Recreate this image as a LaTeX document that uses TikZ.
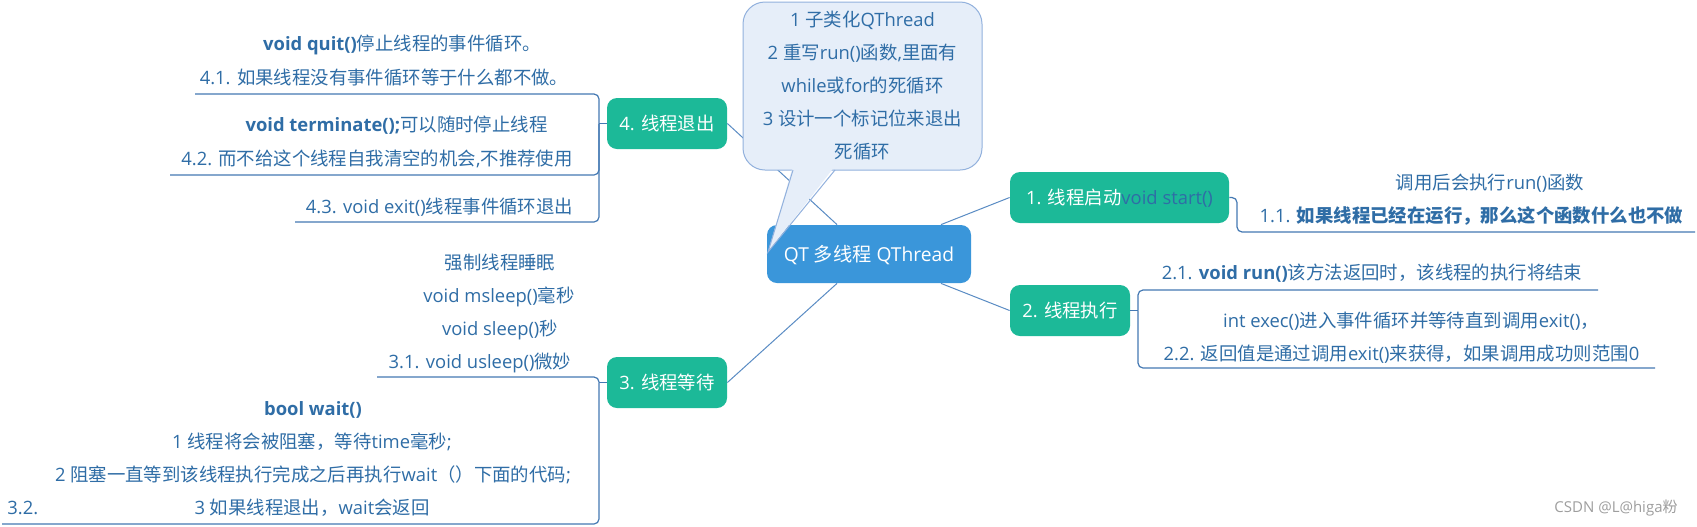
\documentclass[tikz,border=0pt]{standalone}
\usepackage{fontspec}
\setmainfont{Open Sans}
\newfontfamily\cjkfam{Noto Sans CJK SC}
\XeTeXinterchartokenstate=1
\newXeTeXintercharclass\cjkcls
\makeatletter
\def\setcjkrange#1#2{\count@=#1\relax\loop\XeTeXcharclass\count@=\cjkcls\ifnum\count@<#2\advance\count@ by 1\repeat}
\makeatother
\setcjkrange{"4E00}{"9FFF}
\setcjkrange{"3000}{"303F}
\setcjkrange{"FF00}{"FFEF}
\XeTeXinterchartoks 0 \cjkcls = {\begingroup\cjkfam}
\XeTeXinterchartoks 4095 \cjkcls = {\begingroup\cjkfam}
\XeTeXinterchartoks \cjkcls 0 = {\endgroup}
\XeTeXinterchartoks \cjkcls 4095 = {\endgroup}
\usetikzlibrary{calc}
\definecolor{tb}{HTML}{2F6DA6}
\definecolor{tg}{HTML}{1CB998}
\definecolor{cb}{HTML}{3A96DA}
\definecolor{cf}{HTML}{E6EEF9}
\definecolor{cbd}{HTML}{92B1DD}
\definecolor{ln}{HTML}{4479B3}
\definecolor{cn}{HTML}{5A8CC4}
\begin{document}
\begin{tikzpicture}[x=0.5pt,y=-0.5pt,
  txt/.style={font=\fontsize{9.2pt}{11pt}\selectfont, text=tb, inner sep=0pt, text height=8.1pt, text depth=1.1pt},
  topic/.style={fill=tg, rounded corners=5pt, text=white, inner sep=0pt, minimum height=25.5pt, text height=8.1pt, text depth=1.1pt, font=\fontsize{9.2pt}{11pt}\selectfont},
  rootnode/.style={fill=cb, rounded corners=5pt, text=white, inner sep=0pt, minimum width=102pt, minimum height=29pt, text height=8.3pt, text depth=1.1pt, font=\fontsize{9.6pt}{11pt}\selectfont},
  calloutbox/.style={fill=cf, draw=cbd, line width=0.5pt, rounded corners=11pt, text=tb, align=center, minimum width=119.5pt, minimum height=84pt, inner sep=0pt, font=\fontsize{9.2pt}{16.5pt}\selectfont},
  ul/.style={draw=ln, line width=0.6pt, rounded corners=2.5pt},
  conn/.style={draw=cn, line width=0.5pt},
  wmark/.style={font=\fontsize{7.5pt}{9pt}\selectfont, text=black!38, inner sep=0pt}
]
\fill[white] (0,0) rectangle (1697,526);
\useasboundingbox (0,0) rectangle (1697,526);

% root and main topics
\node[rootnode] (c) at (869,254) {QT 多线程 QThread};
\node[topic, minimum width=60pt] (t4) at (667,123.5) {4. 线程退出};
\node[topic, minimum width=60pt] (t3) at (667,382.5) {3. 线程等待};
\node[topic, minimum width=109.5pt] (t1) at (1119.5,197.5) {1. 线程启动\textcolor{tb}{void start()}};
\node[topic, minimum width=60pt] (t2) at (1070,310.5) {2. 线程执行};

% group 4 texts
\node[txt] (q1) at (402,43) {\textbf{void quit()}停止线程的事件循环。};
\node[txt] (q2) at (384,77) {4.1. 如果线程没有事件循环等于什么都不做。};
\node[txt] (q3) at (396.5,124) {\textbf{void terminate();}可以随时停止线程};
\node[txt] (q4) at (377,158) {4.2. 而不给这个线程自我清空的机会,不推荐使用};
\node[txt] (q5) at (439.5,206) {4.3. void exit()线程事件循环退出};

% group 3 texts
\node[txt] (w1) at (500,262) {强制线程睡眠};
\node[txt] (w2) at (499,295) {void msleep()毫秒};
\node[txt] (w3) at (500,328) {void sleep()秒};
\node[txt] (w4) at (480,361) {3.1. void usleep()微妙};
\node[txt] (w5) at (313,408) {\textbf{bool wait()}};
\node[txt] (w6) at (312,441) {1 线程将会被阻塞，等待time毫秒;};
\node[txt] (w7) at (313,474) {2 阻塞一直等到该线程执行完成之后再执行wait（）下面的代码;};
\node[txt] (w8) at (312,507) {3 如果线程退出，wait会返回};
\node[txt, anchor=west] (w9) at (7,507) {3.2.};

% group 1 texts
\node[txt] (s1) at (1490,182) {调用后会执行run()函数};
\node[txt] (s2) at (1471.5,215) {1.1. \textbf{如果线程已经在运行，那么这个函数什么也不做}};

% group 2 texts
\node[txt] (r1) at (1372,272) {2.1. \textbf{void run()}该方法返回时，该线程的执行将结束};
\node[txt] (r2) at (1411,320) {int exec()进入事件循环并等待直到调用exit()，};
\node[txt] (r3) at (1401.5,353) {2.2. 返回值是通过调用exit()来获得，如果调用成功则范围0};

% bracket / underline coordinates
\coordinate (b4) at (599,123.5);
\coordinate (u41) at (195,94);
\coordinate (u42) at (170,175);
\coordinate (u43) at (295,222);
\coordinate (b3) at (599,382.5);
\coordinate (u31) at (377,377);
\coordinate (u32) at (2,524);
\coordinate (k1) at (1237,232);
\coordinate (u11) at (1695,232);
\coordinate (b2) at (1138,310.5);
\coordinate (u21) at (1598,290);
\coordinate (u22) at (1655,368);

\draw[ul] (t4.west) -- (b4);
\draw[ul] (b4) |- (u41);
\draw[ul] (b4) |- (u42);
\draw[ul] (b4) |- (u43);
\draw[ul] (t3.west) -- (b3);
\draw[ul] (b3) |- (u31);
\draw[ul] (b3) |- (u32);
\draw[ul] (t1.east) -| (k1) -- (u11);
\draw[ul] (t2.east) -- (b2);
\draw[ul] (b2) |- (u21);
\draw[ul] (b2) |- (u22);

% connectors from root
\draw[conn] (t4.east) -- ([xshift=-16pt]c.north);
\draw[conn] ([xshift=36pt]c.north) -- (t1.west);
\draw[conn] ([xshift=-16pt]c.south) -- (t3.east);
\draw[conn] ([xshift=36pt]c.south) -- (t2.west);

% callout
\node[calloutbox] (cbx) at (862.5,86) {1 子类化QThread\\2 重写run()函数,里面有\\while或for的死循环\\3 设计一个标记位来退出\\死循环};
\coordinate (tl) at (793,170);
\coordinate (tip) at (768,252);
\coordinate (tr) at (835,170);
\fill[cf] ([yshift=2pt]tl) -- (tip) -- ([yshift=2pt]tr) -- cycle;
\draw[cbd, line width=0.5pt, line join=miter] (tl) -- (tip) -- (tr);

% watermark
\node[wmark] (wm) at (1616,508) {CSDN @L@higa粉};
\end{tikzpicture}
\end{document}
